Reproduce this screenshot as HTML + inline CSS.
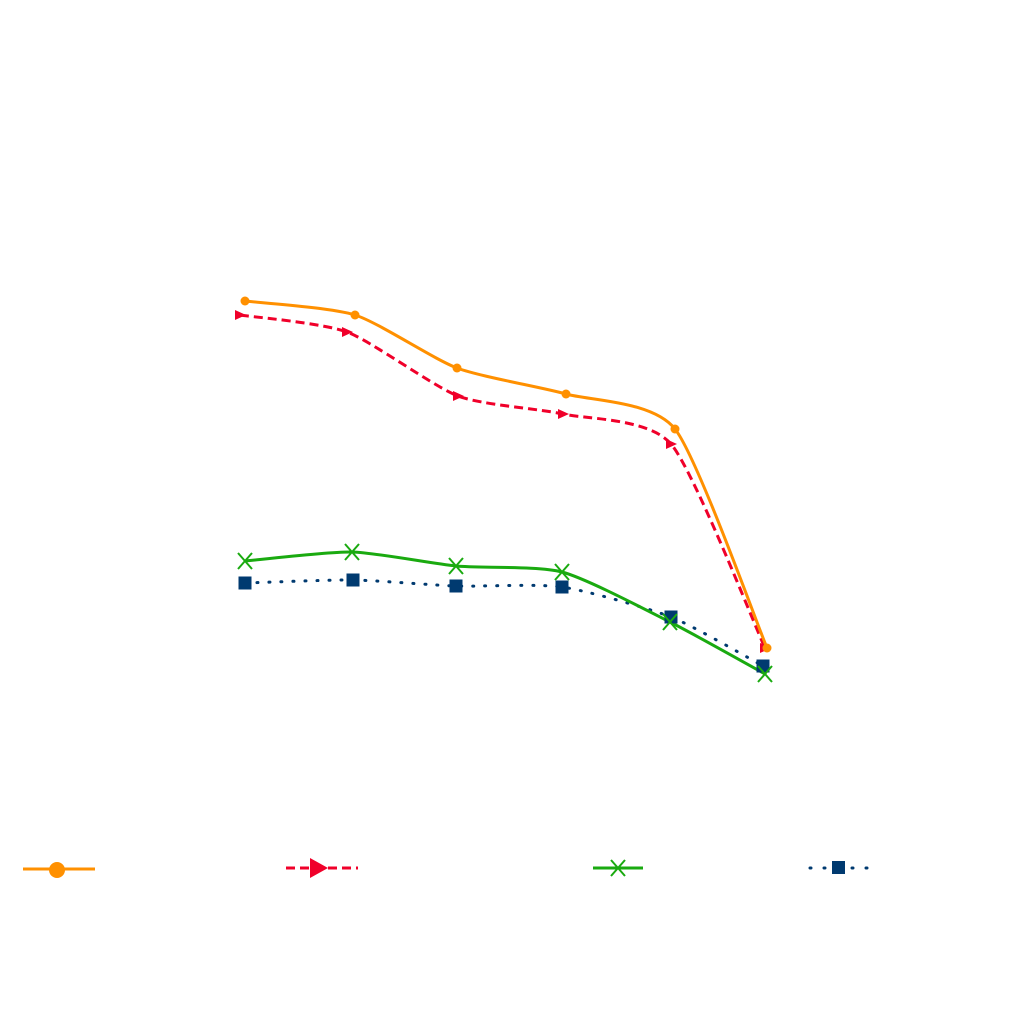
<!DOCTYPE html>
<html><head><meta charset="utf-8"><style>html,body{margin:0;padding:0;background:#fff;width:1024px;height:1024px;overflow:hidden}</style></head>
<body>
<svg id="s" width="1024" height="1024" xmlns="http://www.w3.org/2000/svg">
<g id="g"></g>
<line x1="23" y1="869" x2="95" y2="869" stroke="#ff9000" stroke-width="3"/>
<circle cx="57" cy="870" r="8" fill="#ff9000"/>
<line x1="286" y1="868" x2="358" y2="868" stroke="#f0002a" stroke-width="3" stroke-dasharray="9,5"/>
<polygon points="310,858 310,878 328,868" fill="#f0002a"/>
<line x1="593" y1="868" x2="643" y2="868" stroke="#1aaa10" stroke-width="3"/>
<path d="M611,860 L625,876 M625,860 L611,876" stroke="#1aaa10" stroke-width="2"/>
<line x1="810" y1="868" x2="872" y2="868" stroke="#003a70" stroke-width="3" stroke-dasharray="1,13" stroke-linecap="round"/>
<rect x="832" y="861" width="13" height="13" fill="#003a70"/>
</svg>
<script>
function path(p){var k=9,d="M"+p[0][0]+","+p[0][1];
for(var i=0;i<p.length-1;i++){var p0=p[i-1]||p[i],p1=p[i],p2=p[i+1],p3=p[i+2]||p2;
var c1=[p1[0]+(p2[0]-p0[0])/k,p1[1]+(p2[1]-p0[1])/k],c2=[p2[0]-(p3[0]-p1[0])/k,p2[1]-(p3[1]-p1[1])/k];
d+=" C"+c1+" "+c2+" "+p2;}return d;}
var g=document.getElementById("g"),h="";
var O=[[245,301],[355,315],[457,368],[566,394],[675,429],[767,648]];
var R=[[240,315],[347,332],[458,396],[563,414],[671,444],[765,648]];
var G=[[245,561],[352,552],[456,566],[562,572],[670,622],[765,674]];
var B=[[245,583],[353,580],[456,586],[562,587],[671,617],[763,666]];
h+='<path d="'+path(B)+'" fill="none" stroke="#003a70" stroke-width="3" stroke-dasharray="1,11" stroke-linecap="round"/>';
h+='<path d="'+path(G)+'" fill="none" stroke="#1aaa10" stroke-width="3"/>';
h+='<path d="'+path(R)+'" fill="none" stroke="#f0002a" stroke-width="3" stroke-dasharray="9,5"/>';
h+='<path d="'+path(O)+'" fill="none" stroke="#ff9000" stroke-width="3"/>';
B.forEach(function(p){h+='<rect x="'+(p[0]-6.5)+'" y="'+(p[1]-6.5)+'" width="13" height="13" fill="#003a70"/>';});
G.forEach(function(p){var x=p[0],y=p[1];h+='<path d="M'+(x-7)+','+(y-8)+' L'+(x+7)+','+(y+8)+' M'+(x+7)+','+(y-8)+' L'+(x-7)+','+(y+8)+'" stroke="#1aaa10" stroke-width="2"/>';});
R.forEach(function(p){var x=p[0],y=p[1];h+='<polygon points="'+(x-5)+','+(y-5)+' '+(x-5)+','+(y+5)+' '+(x+6)+','+y+'" fill="#f0002a"/>';});
O.forEach(function(p){h+='<circle cx="'+p[0]+'" cy="'+p[1]+'" r="4.5" fill="#ff9000"/>';});
g.innerHTML=h;
</script>
</body></html>
